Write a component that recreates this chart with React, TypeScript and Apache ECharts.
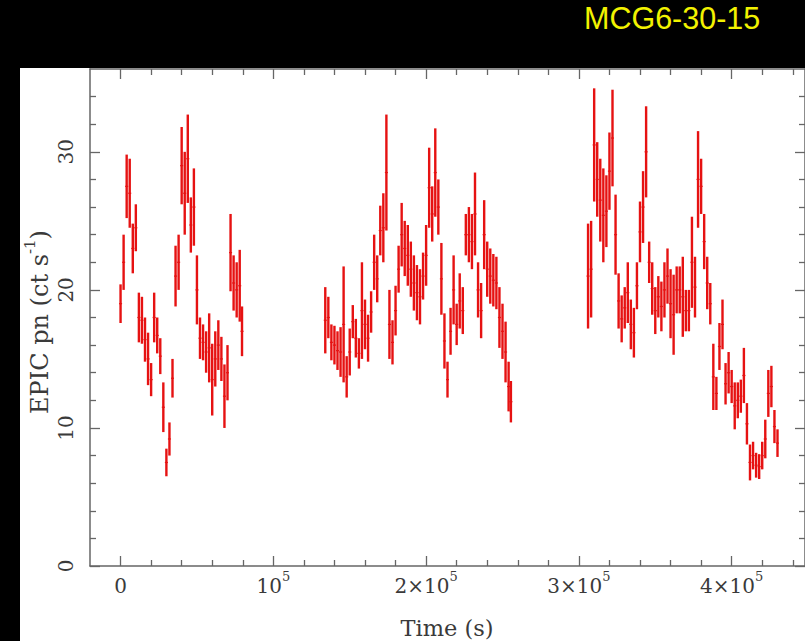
import React, { useEffect, useRef } from "react";
import * as echarts from "echarts";

// Light curve of MCG6-30-15, EPIC pn count rate (ct/s) vs time (in ks)
const orbit1Time = [0, 2, 4, 6, 8, 10, 12, 14, 16, 18, 20, 22, 24, 26, 28, 30, 32, 34, 36, 38, 40, 42, 44, 46, 48, 50, 52, 54, 56, 58, 60, 62, 64, 66, 68, 70, 72, 74, 76, 78, 79.5];
const orbit1Rate = [19.0, 22.0, 27.5, 27.0, 23.0, 24.5, 18.0, 17.8, 16.4, 15.0, 13.5, 18.0, 16.7, 15.2, 11.5, 7.5, 9.2, 13.6, 21.0, 22.0, 29.0, 27.0, 29.5, 24.7, 26.0, 20.0, 16.5, 16.2, 15.5, 15.8, 13.5, 15.0, 16.0, 15.0, 12.3, 14.0, 22.7, 20.5, 20.0, 20.3, 17.0];
const orbit1Err = [1.4, 2.0, 2.3, 2.5, 1.8, 1.7, 1.8, 1.7, 1.6, 1.9, 1.2, 1.8, 1.3, 1.3, 1.8, 1.0, 1.2, 1.4, 2.2, 2.0, 2.8, 3.0, 3.2, 2.0, 2.8, 2.5, 1.5, 1.3, 1.5, 2.5, 2.6, 2.0, 1.8, 1.6, 2.3, 2.0, 2.8, 2.0, 2.0, 2.6, 1.8];

const orbit2Time = [134, 136, 138, 140, 142, 144, 146, 148, 150, 152, 154, 156, 158, 160, 162, 164, 166, 168, 170, 172, 174, 176, 178, 180, 182, 184, 186, 188, 190, 192, 194, 196, 198, 200, 202, 204, 206, 208, 210, 212, 214, 216, 218, 220, 222, 224, 226, 228, 230, 232, 234, 236, 238, 240, 242, 244, 246, 248, 250, 252, 254, 255.5];
const orbit2Rate = [17.8, 18.0, 16.2, 16.0, 15.6, 15.5, 17.5, 13.7, 15.5, 17.7, 16.5, 15.4, 18.5, 17.5, 16.5, 18.4, 22.0, 20.8, 24.3, 24.5, 28.5, 17.5, 16.2, 18.5, 21.5, 24.0, 23.0, 22.5, 21.5, 20.5, 19.8, 19.5, 21.0, 22.5, 27.4, 25.5, 28.5, 26.0, 20.8, 16.3, 13.5, 17.0, 20.0, 17.5, 19.2, 18.5, 24.0, 24.0, 23.5, 25.5, 20.0, 18.5, 24.0, 21.5, 21.0, 20.7, 20.5, 18.0, 17.0, 15.5, 13.0, 11.9];
const orbit2Err = [2.4, 1.5, 1.3, 1.4, 1.4, 1.8, 4.2, 1.5, 1.7, 1.2, 1.4, 1.1, 3.5, 1.8, 1.7, 1.5, 2.0, 1.7, 1.8, 2.5, 4.2, 2.5, 1.6, 1.8, 1.7, 2.3, 2.0, 2.2, 2.0, 2.0, 2.0, 2.0, 1.7, 2.2, 2.9, 2.0, 3.2, 2.0, 2.6, 2.0, 1.3, 1.7, 2.5, 1.5, 2.0, 1.7, 1.5, 2.0, 2.0, 3.0, 2.0, 2.0, 2.5, 2.0, 2.0, 1.9, 1.9, 2.2, 2.0, 2.2, 1.8, 1.5];

const orbit3Time = [306, 308, 310, 312, 314, 316, 318, 320, 322, 324, 326, 328, 330, 332, 334, 336, 338, 340, 342, 344, 346, 348, 350, 352, 354, 356, 358, 360, 362, 364, 366, 368, 370, 372, 374, 376, 378, 380, 382, 384, 386, 388, 390, 392, 394, 396, 398, 400, 402, 404, 406, 408, 410, 412, 414, 416, 418, 420, 422, 424, 426, 428, 430];
const orbit3Rate = [21.0, 21.5, 30.5, 28.0, 26.5, 25.4, 25.7, 28.6, 31.0, 24.0, 19.2, 17.9, 18.7, 19.8, 17.5, 16.9, 20.3, 24.2, 26.0, 30.0, 22.0, 20.1, 18.5, 19.5, 18.8, 20.0, 21.0, 19.0, 18.2, 20.0, 20.0, 19.5, 18.5, 18.5, 22.0, 20.2, 28.0, 27.5, 23.5, 20.5, 19.0, 13.7, 12.5, 15.9, 17.5, 13.2, 14.0, 13.0, 11.6, 12.0, 12.3, 13.8, 10.3, 7.5, 8.0, 7.3, 7.2, 8.0, 9.2, 12.5, 13.0, 10.1, 8.9];
const orbit3Err = [3.8, 3.5, 4.1, 2.7, 3.0, 3.4, 2.6, 2.8, 3.5, 2.9, 2.0, 1.7, 1.5, 2.2, 1.8, 1.8, 1.7, 2.2, 2.6, 3.3, 1.5, 1.9, 1.7, 1.5, 1.8, 2.0, 2.0, 2.5, 2.9, 1.7, 1.7, 2.9, 1.5, 1.5, 3.3, 2.2, 3.5, 2.0, 2.0, 1.9, 1.5, 2.4, 1.2, 1.7, 1.8, 1.5, 1.5, 1.2, 1.7, 1.3, 1.2, 2.0, 1.5, 1.3, 1.0, 0.9, 0.9, 1.0, 1.4, 1.7, 1.5, 1.2, 1.0];

// Axis ticks (time in ks, rate in ct/s)
const xMajorTicks = [0, 100, 200, 300, 400];
const xMinorTicks = [20, 40, 60, 80, 120, 140, 160, 180, 220, 240, 260, 280, 320, 340, 360, 380, 420, 440];
const yMajorTicks = [0, 10, 20, 30];
const yMinorTicks = [2, 4, 6, 8, 12, 14, 16, 18, 22, 24, 26, 28, 32, 34];

const AXIS_COLOR = "#666";
const TEXT_COLOR = "#3a3a3a";
const SERIF = "'DejaVu Serif', 'Liberation Serif', serif";
const RED = "#e61212";

function zip(t: number[], r: number[], e: number[]) {
  return t.map((v, i) => [v, r[i], e[i]]);
}

function renderErrorBar(params: any, api: any) {
  const t = api.value(0);
  const r = api.value(1);
  const e = api.value(2);
  const top = api.coord([t, r + e]);
  const bot = api.coord([t, r - e]);
  const l = api.coord([t - 1, r]);
  const rr = api.coord([t + 1, r]);
  return {
    type: "group",
    children: [
      { type: "line", shape: { x1: top[0], y1: top[1], x2: bot[0], y2: bot[1] }, style: { stroke: RED, lineWidth: 2.4 } },
      { type: "line", shape: { x1: l[0], y1: l[1], x2: rr[0], y2: rr[1] }, style: { stroke: RED, lineWidth: 1.2 } },
    ],
  };
}

function xAxisDef(position: string, ticks: number[], len: number, labels: boolean, line: boolean) {
  return {
    type: "value",
    position,
    min: -20,
    max: 448,
    axisLine: { show: line, onZero: false, lineStyle: { color: AXIS_COLOR, width: 1.5 } },
    axisTick: { show: true, inside: true, length: len, customValues: ticks, lineStyle: { color: AXIS_COLOR, width: 1.3 } },
    axisLabel: labels
      ? {
          show: true,
          customValues: xMajorTicks,
          margin: 4,
          formatter: (v: number) => {
            if (v === 0) return "{n|0}";
            if (v === 100) return "{n|10}{s|5}";
            return `{n|${v / 100}×10}{s|5}`;
          },
          rich: {
            n: { fontFamily: SERIF, fontSize: 20, color: TEXT_COLOR, lineHeight: 26, verticalAlign: "bottom" },
            s: { fontFamily: SERIF, fontSize: 13, color: TEXT_COLOR, lineHeight: 14, verticalAlign: "top" },
          },
        }
      : { show: false },
    splitLine: { show: false },
  };
}

function yAxisDef(position: string, ticks: number[], len: number, labels: boolean, line: boolean) {
  return {
    type: "value",
    position,
    min: 0,
    max: 36,
    axisLine: { show: line, onZero: false, lineStyle: { color: AXIS_COLOR, width: 1.5 } },
    axisTick: { show: true, inside: true, length: len, customValues: ticks, lineStyle: { color: AXIS_COLOR, width: 1.3 } },
    axisLabel: labels
      ? {
          show: true,
          customValues: yMajorTicks,
          rotate: 90,
          margin: 14,
          fontFamily: SERIF,
          fontSize: 20,
          color: TEXT_COLOR,
          formatter: (v: number) => String(v),
        }
      : { show: false },
    splitLine: { show: false },
  };
}

export default function App() {
  const ref = useRef<HTMLDivElement>(null);
  useEffect(() => {
    document.body.style.margin = "0";
    document.body.style.background = "#000";
    const chart = echarts.init(ref.current!, null, { renderer: "svg" });
    const option: any = {
      animation: false,
      backgroundColor: "transparent",
      title: {
        text: "MCG6-30-15",
        left: 584,
        top: 2,
        padding: 0,
        textStyle: { color: "#f2f200", fontFamily: "'Liberation Sans', Arial, sans-serif", fontSize: 30.5, fontWeight: "normal" },
      },
      grid: { left: 90, top: 69, width: 716, height: 497, containLabel: false },
      xAxis: [
        xAxisDef("bottom", xMajorTicks, 10, true, true),
        xAxisDef("bottom", xMinorTicks, 6, false, false),
        xAxisDef("top", xMajorTicks, 10, false, true),
        xAxisDef("top", xMinorTicks, 6, false, false),
      ],
      yAxis: [
        yAxisDef("left", yMajorTicks, 10, true, true),
        yAxisDef("left", yMinorTicks, 6, false, false),
        yAxisDef("right", yMajorTicks, 10, false, true),
        yAxisDef("right", yMinorTicks, 6, false, false),
      ],
      graphic: [
        {
          type: "text",
          x: 447,
          y: 628,
          style: { text: "Time (s)", fontFamily: SERIF, fontSize: 22.5, fill: TEXT_COLOR, align: "center", verticalAlign: "middle" },
        },
        {
          type: "text",
          x: 37,
          y: 322,
          rotation: Math.PI / 2,
          style: {
            text: "{n|EPIC pn (ct s}{s|-1}{n|)}",
            align: "center",
            verticalAlign: "middle",
            rich: {
              n: { fontFamily: SERIF, fontSize: 24, fill: TEXT_COLOR, color: TEXT_COLOR, lineHeight: 30, verticalAlign: "bottom" },
              s: { fontFamily: SERIF, fontSize: 15, fill: TEXT_COLOR, color: TEXT_COLOR, lineHeight: 15, verticalAlign: "top" },
            },
          },
        },
      ],
      series: [orbit1Time, orbit2Time, orbit3Time].map((t, i) => ({
        type: "custom",
        name: "orbit" + (i + 1),
        xAxisIndex: 0,
        yAxisIndex: 0,
        renderItem: renderErrorBar,
        encode: { x: 0, y: 1 },
        data: [zip(orbit1Time, orbit1Rate, orbit1Err), zip(orbit2Time, orbit2Rate, orbit2Err), zip(orbit3Time, orbit3Rate, orbit3Err)][i],
        clip: true,
      })),
    };
    chart.setOption(option);
    return () => chart.dispose();
  }, []);
  return (
    <div style={{ position: "fixed", left: 0, top: 0, width: 805, height: 641, background: "#000", overflow: "hidden" }}>
      <div style={{ position: "absolute", left: 20, top: 68, width: 785, height: 573, background: "#fff" }} />
      <div ref={ref} style={{ position: "absolute", left: 0, top: 0, width: 805, height: 641 }} />
    </div>
  );
}
